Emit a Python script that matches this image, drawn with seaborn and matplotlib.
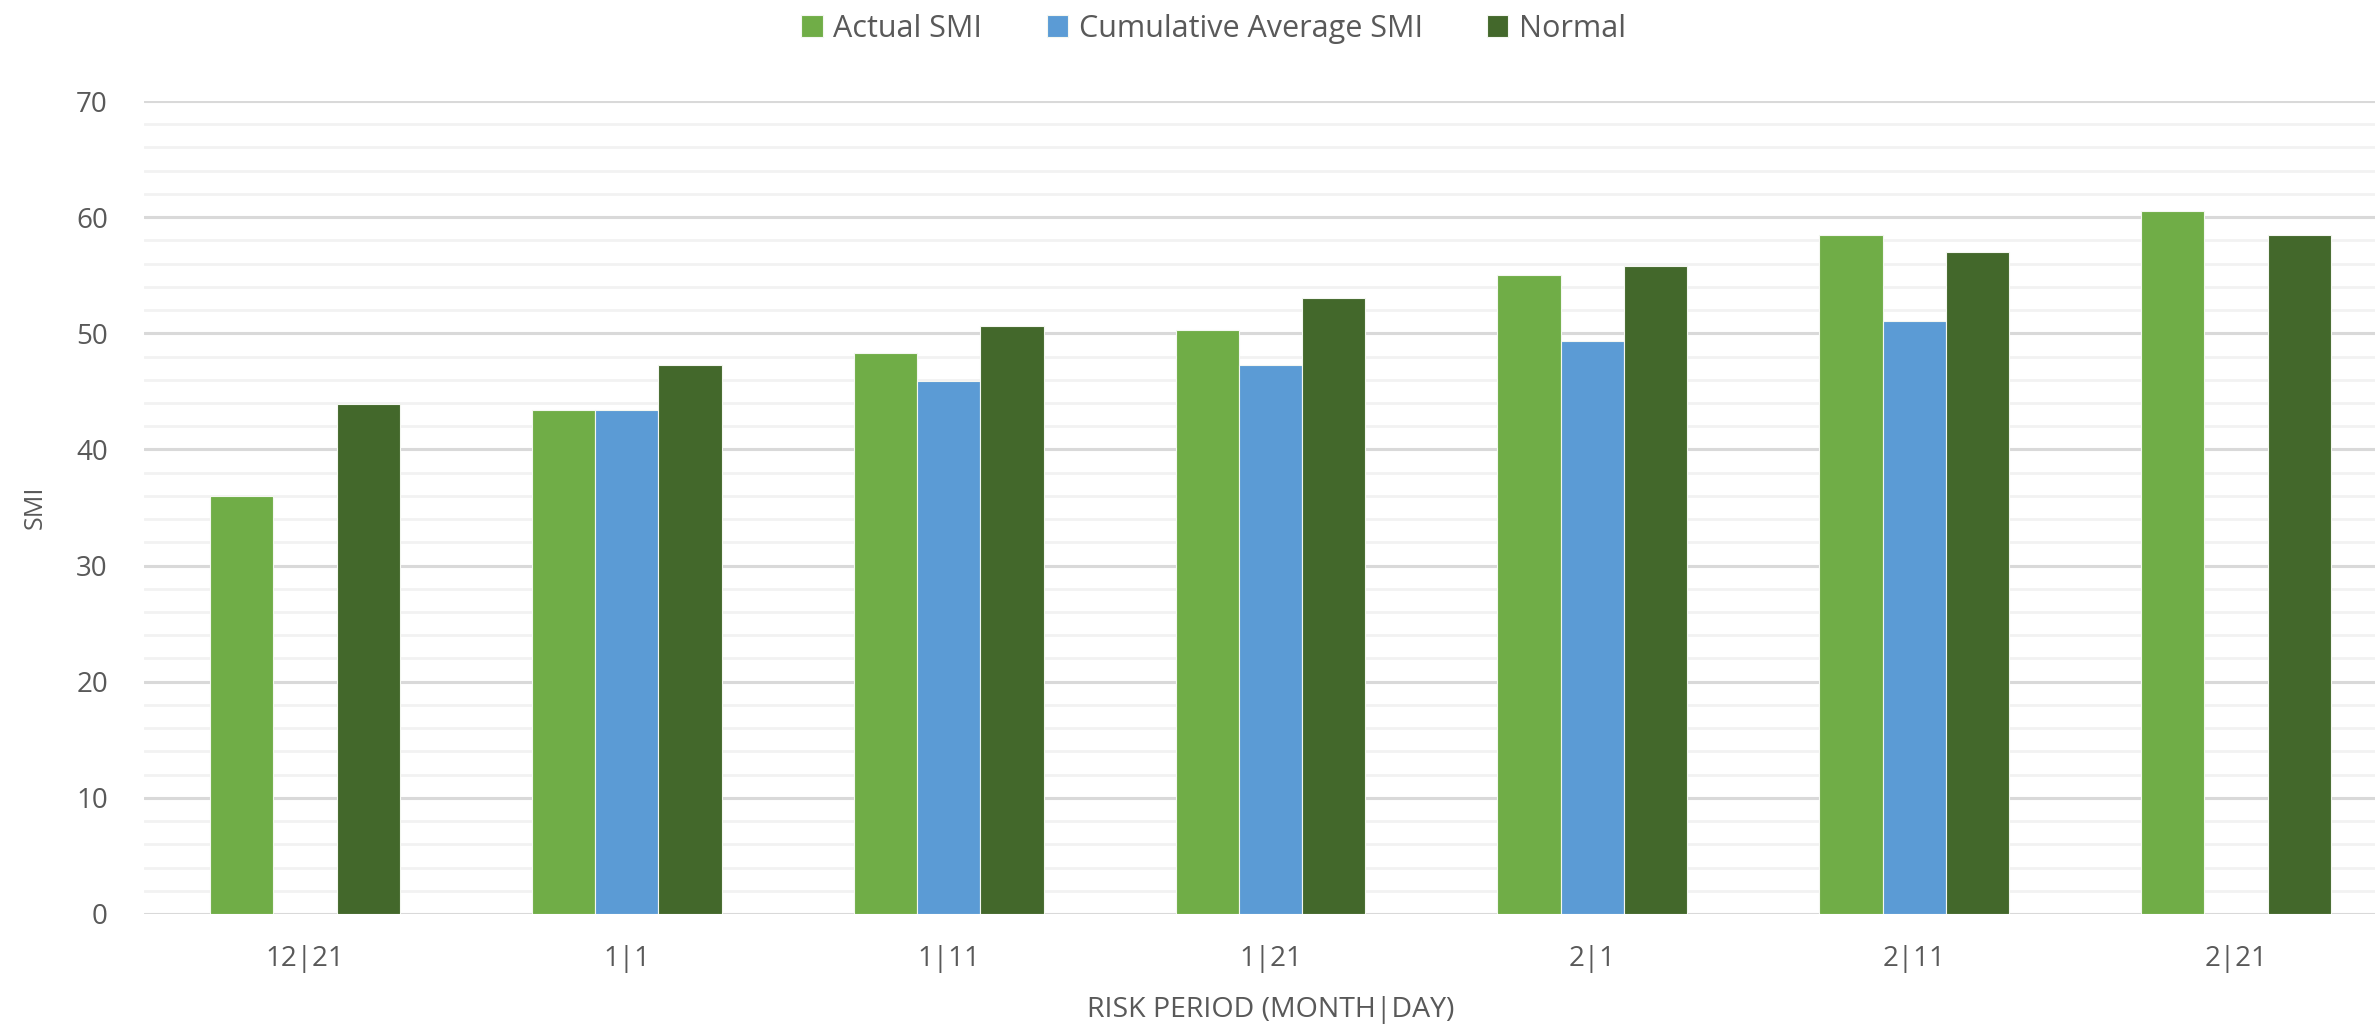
import numpy as np
import pandas as pd
import matplotlib
matplotlib.use('Agg')
import matplotlib.pyplot as plt
import seaborn as sns
from matplotlib.ticker import MultipleLocator

periods = ['12|21', '1|1', '1|11', '1|21', '2|1', '2|11', '2|21']
actual = [36.0, 43.4, 48.3, 50.3, 55.0, 58.5, 60.5]
cumulative = [np.nan, 43.4, 45.9, 47.3, 49.3, 51.1, np.nan]
normal = [43.9, 47.3, 50.6, 53.0, 55.8, 57.0, 58.5]

series = ['Actual SMI', 'Cumulative Average SMI', 'Normal']
colors = {'Actual SMI': '#70AD47', 'Cumulative Average SMI': '#5B9BD5', 'Normal': '#43682B'}

df = pd.DataFrame({
    'period': periods * 3,
    'series': [series[0]] * 7 + [series[1]] * 7 + [series[2]] * 7,
    'value': actual + cumulative + normal,
})

sns.set_style('white')
plt.rcParams['font.family'] = ['Open Sans', 'DejaVu Sans']
gray = '#595959'

fig = plt.figure(figsize=(23.75, 10.32), dpi=100)
ax = fig.add_axes([144 / 2375, 118 / 1032, (2397 - 144) / 2375, (914 - 101) / 1032])

sns.barplot(data=df, x='period', y='value', hue='series', hue_order=series,
            order=periods, palette=colors, width=0.59, saturation=1,
            errorbar=None, edgecolor='#f4f7f1', linewidth=0.8, ax=ax)

ax.set_ylim(0, 70)
ax.set_xlim(-0.5, 6.5)
ax.yaxis.set_major_locator(MultipleLocator(10))
ax.yaxis.set_minor_locator(MultipleLocator(2))
ax.grid(which='major', axis='y', color='#d9d9d9', linewidth=2.2)
ax.grid(which='minor', axis='y', color='#f2f2f2', linewidth=2.0)
ax.grid(which='major', axis='x', visible=False)
ax.set_axisbelow(True)
for s in ax.spines.values():
    s.set_visible(False)
ax.tick_params(axis='both', which='both', length=0, labelsize=20, labelcolor=gray)
ax.tick_params(axis='y', pad=26)
ax.tick_params(axis='x', pad=22)

ax.set_ylabel('SMI', fontsize=18, color=gray, labelpad=20)
ax.set_xlabel('RISK PERIOD (MONTH|DAY)', fontsize=20.5, color=gray, labelpad=17)

handles, labels = ax.get_legend_handles_labels()
ax.legend_.remove()
fig.legend(handles, labels, loc='center', bbox_to_anchor=(0.511, 0.972), ncol=3,
           frameon=False, fontsize=22, labelcolor=gray, handlelength=0.7,
           handleheight=0.75, handletextpad=0.35, columnspacing=2.1)

fig.savefig('out.png', dpi=100)
